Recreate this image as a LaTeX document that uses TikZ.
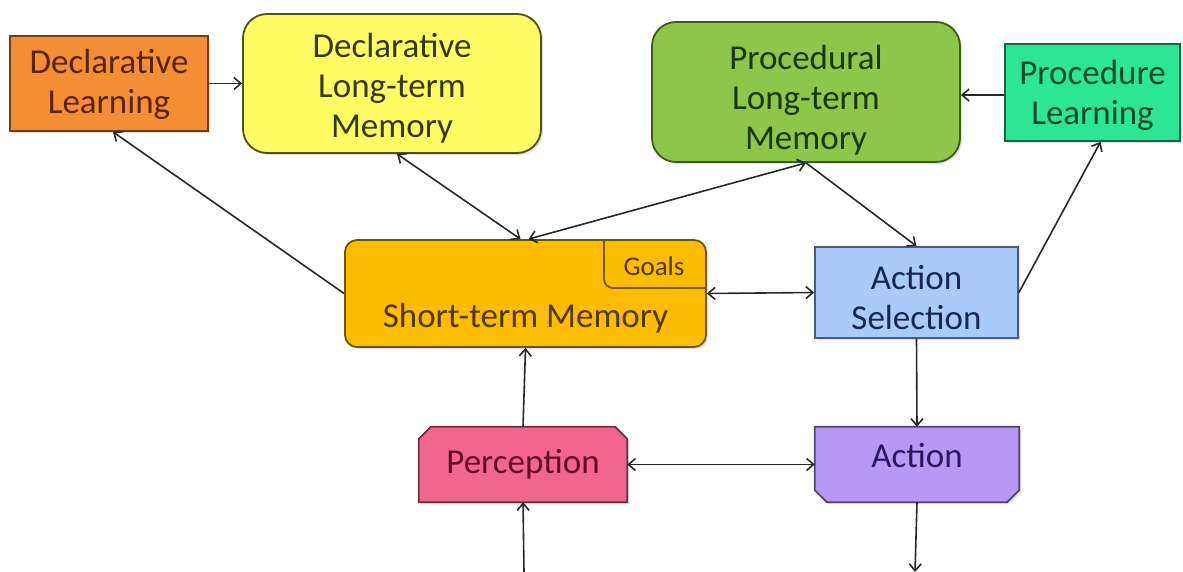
\documentclass[tikz,border=0pt]{standalone}
\usepackage{fontspec}
\setmainfont{Carlito}
\usetikzlibrary{arrows.meta,shadows}
\definecolor{cOrange}{RGB}{243,142,52}
\definecolor{cOrangeT}{RGB}{90,35,10}
\definecolor{cYellow}{RGB}{255,252,100}
\definecolor{cYellowT}{RGB}{55,55,20}
\definecolor{cGreen}{RGB}{141,198,72}
\definecolor{cGreenT}{RGB}{25,55,10}
\definecolor{cTeal}{RGB}{44,230,150}
\definecolor{cTealT}{RGB}{10,75,45}
\definecolor{cAmber}{RGB}{252,188,0}
\definecolor{cAmberT}{RGB}{85,55,0}
\definecolor{cBlue}{RGB}{170,202,250}
\definecolor{cBlueT}{RGB}{25,40,80}
\definecolor{cPink}{RGB}{240,102,142}
\definecolor{cPinkT}{RGB}{100,10,40}
\definecolor{cPurple}{RGB}{182,152,245}
\definecolor{cPurpleT}{RGB}{40,25,95}
\definecolor{cLine}{RGB}{40,40,40}
\tikzset{
  box/.style={draw=#1!45!black, line width=1.8pt, inner sep=0pt,
    drop shadow={opacity=0.25, shadow xshift=2pt, shadow yshift=-2pt}},
  txt/.style={align=center, font=\fontsize{35}{40}\selectfont, inner sep=0pt},
  conn/.style={draw=cLine, line width=1.6pt, -{Straight Barb[length=7pt,width=12pt]}},
  conn2/.style={draw=cLine, line width=1.6pt, {Straight Barb[length=7pt,width=12pt]}-{Straight Barb[length=7pt,width=12pt]}},
  x=1pt, y=-1pt
}
\begin{document}
\begin{tikzpicture}
\useasboundingbox (0,0) rectangle (1183,572);
% Declarative Learning
\node[box=cOrange, fill=cOrange, minimum width=198pt, minimum height=95pt] (dl) at (109,83.5) {};
\node[txt, text=cOrangeT] at (109,84) {Declarative\\Learning};
% Declarative LTM
\node[box=cYellow!70!black, fill=cYellow, rounded corners=24pt, minimum width=298pt, minimum height=139pt] (dltm) at (392,83.5) {};
\node[txt, text=cYellowT] at (392,88) {Declarative\\Long-term\\Memory};
% Procedural LTM
\node[box=cGreen, fill=cGreen, rounded corners=24pt, minimum width=308pt, minimum height=140pt] (pltm) at (806,92) {};
\node[txt, text=cGreenT] at (806,100) {Procedural\\Long-term\\Memory};
% Procedure Learning
\node[box=cTeal, fill=cTeal, minimum width=175pt, minimum height=97pt] (pl) at (1092.5,92.5) {};
\node[txt, text=cTealT] at (1092.5,95) {Procedure\\Learning};
% Short-term memory
\node[box=cAmber, fill=cAmber, rounded corners=12pt, minimum width=361pt, minimum height=107pt] (stm) at (525.5,293.5) {};
\node[txt, text=cAmberT] at (525.5,318) {Short-term Memory};
\draw[draw=cAmber!45!black, line width=1.8pt, rounded corners=9pt] (604,240) -- (604,288) -- (705,288);
\node[txt, text=cAmberT, font=\fontsize{27}{30}\selectfont] (goals) at (654,266) {Goals};
% Action Selection
\node[box=cBlue, fill=cBlue, minimum width=203pt, minimum height=91pt] (as) at (916.5,292.5) {};
\node[txt, text=cBlueT] at (916.5,298) {Action\\Selection};
% Perception (top corners chamfered)
\node[minimum width=208pt, minimum height=75pt, inner sep=0pt] (per) at (523,464.5) {};
\draw[draw=cPink!45!black, fill=cPink, line width=1.8pt,
  drop shadow={opacity=0.25, shadow xshift=2pt, shadow yshift=-2pt}]
  (per.south west) -- ([yshift=-12pt]per.north west) -- ([xshift=12pt]per.north west)
  -- ([xshift=-12pt]per.north east) -- ([yshift=-12pt]per.north east) -- (per.south east) -- cycle;
\node[txt, text=cPinkT] at (523,464) {Perception};
% Action (bottom corners chamfered)
\node[minimum width=204pt, minimum height=75pt, inner sep=0pt] (act) at (917,464.5) {};
\draw[draw=cPurple!45!black, fill=cPurple, line width=1.8pt,
  drop shadow={opacity=0.25, shadow xshift=2pt, shadow yshift=-2pt}]
  (act.north west) -- ([yshift=12pt]act.south west) -- ([xshift=12pt]act.south west)
  -- ([xshift=-12pt]act.south east) -- ([yshift=12pt]act.south east) -- (act.north east) -- cycle;
\node[txt, text=cPurpleT] at (917,456) {Action};
% free ends
\coordinate (inb) at (524,572);
\coordinate (outb) at (915,572);
% connectors
\draw[conn] (dl.east) -- (dltm.west |- dl.east);
\draw[conn2] ([xshift=5pt]dltm.south) -- ([xshift=-5pt]stm.north);
\draw[conn2] ([xshift=3pt]stm.north) -- (pltm.south);
\draw[conn] (stm.west) -- ([xshift=4pt]dl.south);
\draw[conn] (pltm.south) -- (as.north);
\draw[conn] (pl.west |- 0,95) -- (pltm.east |- 0,95);
\draw[conn] (as.east) -- ([xshift=8pt]pl.south);
\draw[conn2] (stm.east) -- (as.west);
\draw[conn] (per.north) -- (stm.south);
\draw[conn] (as.south) -- (act.north);
\draw[conn2] (per.east) -- (act.west);
\draw[conn] (inb) -- (per.south);
\draw[conn] (act.south) -- (outb);
\end{tikzpicture}
\end{document}
